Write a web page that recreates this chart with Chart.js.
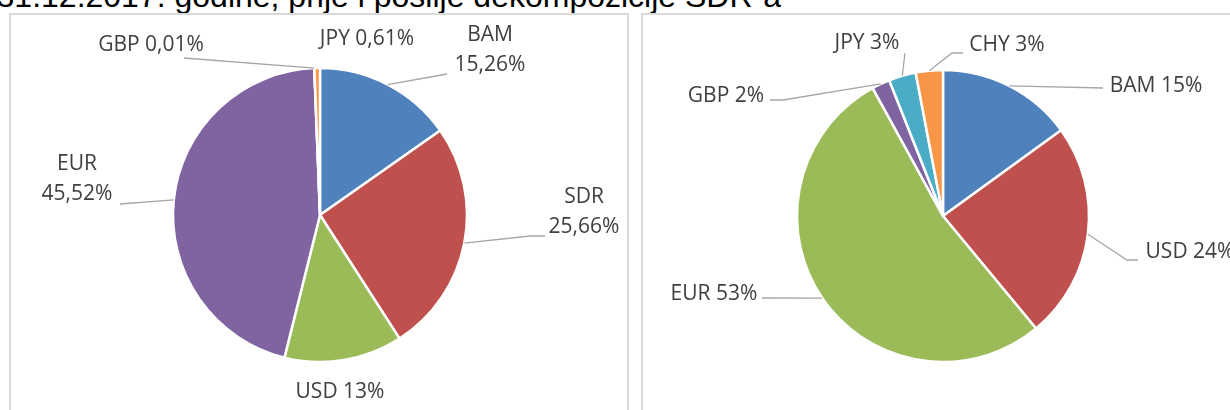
<!DOCTYPE html>
<html>
<head>
<meta charset="utf-8">
<script src="https://cdn.jsdelivr.net/npm/chart.js@4.4.1/dist/chart.umd.min.js"></script>
<style>
  body { margin: 0; width: 1230px; height: 410px; overflow: hidden; background: #fff; position: relative; }
  .title { position: absolute; right: 449px; top: -20px; font: 32px/1 "Liberation Sans", Arial, sans-serif; color: #000; white-space: nowrap; }
  .panel { position: absolute; border: 2px solid #d9d9d9; box-sizing: border-box; }
  canvas { position: absolute; left: 0; top: 0; }
</style>
</head>
<body>
<div class="title">na dan 31.12.2017. godine, prije i poslije dekompozicije SDR-a</div>
<div class="panel" style="left:9px;top:13px;width:620px;height:420px"></div>
<div class="panel" style="left:641px;top:13px;width:620px;height:420px"></div>
<canvas id="before-chart" width="1230" height="410"></canvas>
<canvas id="after-chart" width="1230" height="410"></canvas>
<script>
// prije dekompozicije SDR-a
const BEFORE_LABELS = ['BAM', 'SDR', 'USD', 'EUR', 'GBP', 'JPY'];
const BEFORE_VALUES = [15.26, 25.66, 13, 45.52, 0.01, 0.61];
const BEFORE_COLORS = ['#4f81bd', '#c0504d', '#9bbb59', '#8064a2', '#4bacc6', '#f79646'];

// poslije dekompozicije SDR-a
const AFTER_LABELS = ['BAM', 'USD', 'EUR', 'GBP', 'JPY', 'CHY'];
const AFTER_VALUES = [15, 24, 53, 2, 3, 3];
const AFTER_COLORS = ['#4f81bd', '#c0504d', '#9bbb59', '#8064a2', '#4bacc6', '#f79646'];

const W = 1230, H = 410;
const TEXT_COLOR = '#404040';
const LEADER_COLOR = '#a6a6a6';
const LABEL_FONT = '21px "Open Sans", "Noto Sans", sans-serif';

// label placement: text centre, two-line or not, leader bend points (label side first)
const BEFORE_LAYOUT = [
    { x: 490, y: 35, wrap: true, pts: [[447, 74]] },
    { x: 584, y: 197, wrap: true, pts: [[545, 236], [530, 236]] },
    { x: 340, y: 392, wrap: false, pts: null },
    { x: 77, y: 164, wrap: true, pts: [[120, 204]] },
    { x: 151, y: 45, wrap: false, pts: [[184, 58]] },
    { x: 367, y: 39, wrap: false, pts: null },
];
const AFTER_LAYOUT = [
    { x: 1156, y: 86, wrap: false, pts: [[1103, 88]] },
    { x: 1190, y: 252, wrap: false, pts: [[1138, 260], [1127, 260]] },
    { x: 714, y: 294, wrap: false, pts: [[762, 298]] },
    { x: 726, y: 96, wrap: false, pts: [[770, 100], [783, 100]] },
    { x: 867, y: 43, wrap: false, pts: [[905, 53]] },
    { x: 1007, y: 45, wrap: false, pts: [[963, 53], [952, 53]] },
];

const fmtPct = v => String(v).replace('.', ',') + '%';

function squarePadding(cx, cy, r, bw) {
    const s = 2 * r + bw;
    return { left: cx - s / 2, right: W - (cx + s / 2), top: cy - s / 2, bottom: H - (cy + s / 2) };
}

function leaderLabels(labels, values, layout) {
    return {
        id: 'leaderLabels',
        afterDatasetsDraw(chart) {
            const ctx = chart.ctx;
            const arcs = chart.getDatasetMeta(0).data;
            ctx.save();
            ctx.font = LABEL_FONT;
            ctx.fillStyle = TEXT_COLOR;
            ctx.textAlign = 'center';
            ctx.textBaseline = 'middle';
            layout.forEach((it, i) => {
                const a = arcs[i];
                if (it.pts) {
                    const mid = (a.startAngle + a.endAngle) / 2;
                    const ex = a.x + Math.cos(mid) * a.outerRadius;
                    const ey = a.y + Math.sin(mid) * a.outerRadius;
                    ctx.beginPath();
                    ctx.strokeStyle = LEADER_COLOR;
                    ctx.lineWidth = 1.3;
                    ctx.moveTo(it.pts[0][0], it.pts[0][1]);
                    it.pts.slice(1).forEach(p => ctx.lineTo(p[0], p[1]));
                    ctx.lineTo(ex, ey);
                    ctx.stroke();
                }
                if (it.wrap) {
                    ctx.fillText(labels[i], it.x, it.y);
                    ctx.fillText(fmtPct(values[i]), it.x, it.y + 30);
                } else {
                    ctx.fillText(labels[i] + ' ' + fmtPct(values[i]), it.x, it.y);
                }
            });
            ctx.restore();
        }
    };
}

function renderPie(id, labels, values, colors, layout, cx, cy, r) {
    const ctx = document.getElementById(id).getContext('2d');
    return new Chart(ctx, {
        type: 'pie',
        data: {
            labels: labels,
            datasets: [{
                data: values,
                backgroundColor: colors,
                borderColor: '#ffffff',
                borderWidth: 2.5,
            }]
        },
        options: {
            responsive: false, animation: false,
            layout: { padding: squarePadding(cx, cy, r, 2.5) },
            plugins: { legend: { display: false }, tooltip: { enabled: false } }
        },
        plugins: [leaderLabels(labels, values, layout)]
    });
}

renderPie('before-chart', BEFORE_LABELS, BEFORE_VALUES, BEFORE_COLORS, BEFORE_LAYOUT, 320, 215, 147);
renderPie('after-chart', AFTER_LABELS, AFTER_VALUES, AFTER_COLORS, AFTER_LAYOUT, 943, 216, 146);
</script>
</body>
</html>
